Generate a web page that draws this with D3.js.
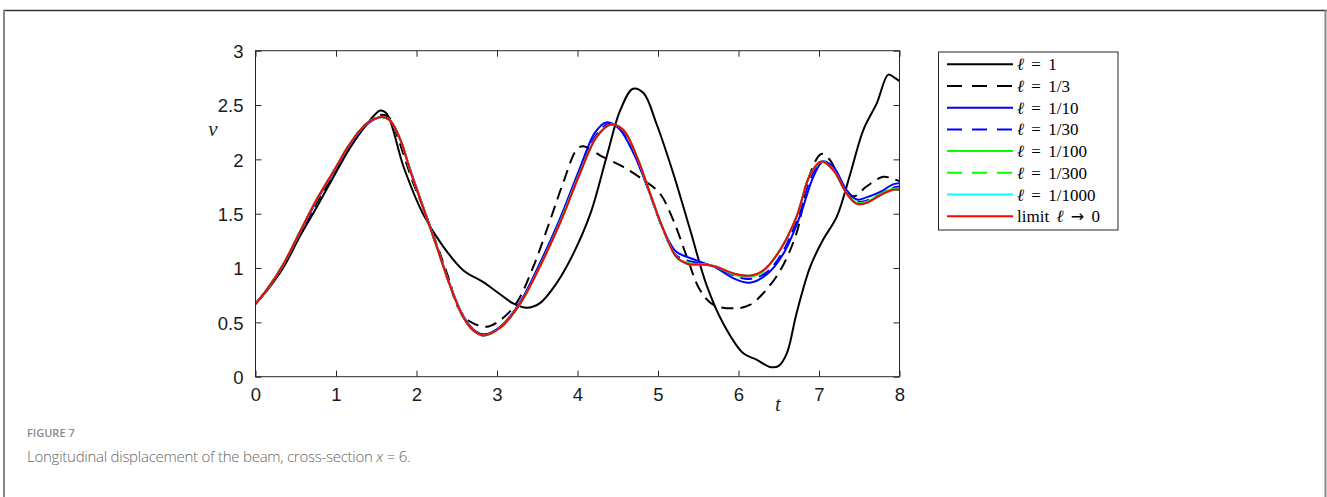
<!DOCTYPE html>
<html>
<head>
<meta charset="utf-8">
<script src="https://cdn.jsdelivr.net/npm/d3@7"></script>
<style>
	body { margin: 0; background: #fff; }
	svg { display: block; }
</style>
</head>
<body>
<div id="graph"></div>
<script>
// series, as [t, v] pairs
var ell1 = [[0,0.67],[0.15,0.80],[0.35,1.01],[0.55,1.29],[0.76,1.56],[0.97,1.84],[1.17,2.10],[1.38,2.32],[1.55,2.45],[1.63,2.42],
	[1.84,1.93],[2.08,1.50],[2.33,1.20],[2.58,0.98],[2.83,0.87],[3.0,0.78],[3.20,0.675],[3.37,0.635],[3.53,0.675],[3.74,0.86],
	[3.95,1.135],[4.16,1.50],[4.36,2.02],[4.53,2.45],[4.69,2.65],[4.82,2.61],[4.98,2.33],[5.19,1.87],[5.40,1.35],[5.60,0.85],
	[5.81,0.49],[6.06,0.215],[6.23,0.155],[6.39,0.09],[6.50,0.10],[6.60,0.215],[6.72,0.58],[6.89,1.01],[7.05,1.26],[7.22,1.47],
	[7.39,1.87],[7.55,2.27],[7.72,2.52],[7.86,2.78],[7.94,2.75],[8.0,2.72]];
var ell3 = [[0,0.67],[0.15,0.81],[0.35,1.03],[0.55,1.31],[0.76,1.60],[0.97,1.86],[1.17,2.12],[1.38,2.32],[1.57,2.41],[1.68,2.37],
	[1.75,2.24],[1.96,1.78],[2.08,1.56],[2.25,1.22],[2.42,0.86],[2.50,0.66],[2.66,0.51],[2.87,0.46],[3.04,0.52],[3.24,0.675],
	[3.45,1.01],[3.66,1.44],[3.82,1.78],[3.99,2.09],[4.07,2.12],[4.32,2.02],[4.57,1.93],[4.82,1.81],[5.02,1.69],[5.19,1.44],
	[5.36,1.10],[5.52,0.80],[5.69,0.66],[5.98,0.63],[6.14,0.66],[6.31,0.77],[6.52,0.98],[6.72,1.32],[6.89,1.87],[7.03,2.05],
	[7.14,1.99],[7.30,1.75],[7.43,1.66],[7.59,1.75],[7.80,1.84],[7.92,1.82],[8.0,1.80]];
var ell10 = [[0,0.67],[0.15,0.81],[0.35,1.04],[0.55,1.32],[0.76,1.62],[0.97,1.88],[1.17,2.13],[1.38,2.32],[1.57,2.39],[1.67,2.36],
	[1.80,2.18],[1.92,1.91],[2.08,1.57],[2.25,1.21],[2.42,0.84],[2.58,0.56],[2.70,0.44],[2.83,0.39],[3.04,0.46],[3.29,0.69],
	[3.53,1.04],[3.78,1.45],[4.03,1.92],[4.22,2.25],[4.36,2.34],[4.52,2.28],[4.70,2.05],[4.88,1.72],[5.05,1.38],[5.20,1.17],
	[5.27,1.13],[5.48,1.07],[5.73,1.00],[5.94,0.905],[6.14,0.865],[6.35,0.94],[6.56,1.135],[6.76,1.47],[6.93,1.84],[7.05,1.98],
	[7.18,1.93],[7.34,1.72],[7.47,1.63],[7.59,1.65],[7.76,1.70],[7.92,1.77],[8.0,1.78]];
var ell30 = [[0,0.67],[0.15,0.81],[0.35,1.04],[0.55,1.33],[0.76,1.63],[0.97,1.89],[1.17,2.14],[1.38,2.33],[1.57,2.39],[1.67,2.36],
	[1.80,2.18],[1.92,1.90],[2.08,1.56],[2.25,1.20],[2.42,0.83],[2.58,0.55],[2.70,0.43],[2.83,0.38],[3.04,0.455],[3.29,0.68],
	[3.53,1.02],[3.78,1.43],[4.03,1.89],[4.23,2.22],[4.40,2.33],[4.55,2.27],[4.72,2.03],[4.89,1.70],[5.06,1.36],[5.22,1.12],
	[5.36,1.07],[5.55,1.04],[5.73,1.01],[5.94,0.93],[6.14,0.90],[6.35,0.96],[6.55,1.15],[6.74,1.47],[6.91,1.85],[7.04,1.98],
	[7.18,1.91],[7.34,1.70],[7.47,1.61],[7.59,1.62],[7.76,1.68],[7.92,1.74],[8.0,1.75]];
var ell100 = [[0,0.67],[0.15,0.81],[0.35,1.04],[0.55,1.33],[0.76,1.63],[0.97,1.89],[1.17,2.14],[1.38,2.33],[1.57,2.39],[1.67,2.36],
	[1.80,2.18],[1.92,1.90],[2.08,1.56],[2.25,1.20],[2.42,0.83],[2.58,0.55],[2.70,0.43],[2.83,0.38],[3.04,0.45],[3.29,0.675],
	[3.53,1.01],[3.78,1.42],[4.03,1.88],[4.24,2.21],[4.42,2.32],[4.57,2.27],[4.74,2.02],[4.90,1.69],[5.07,1.35],[5.23,1.10],
	[5.36,1.05],[5.60,1.03],[5.73,1.01],[5.94,0.94],[6.14,0.92],[6.31,0.97],[6.52,1.17],[6.72,1.47],[6.89,1.86],[7.03,1.98],
	[7.18,1.90],[7.34,1.69],[7.47,1.60],[7.59,1.61],[7.76,1.68],[7.92,1.73],[8.0,1.73]];
var ell300 = [[0,0.67],[0.15,0.81],[0.35,1.04],[0.55,1.33],[0.76,1.63],[0.97,1.89],[1.17,2.14],[1.38,2.33],[1.57,2.39],[1.67,2.36],
	[1.80,2.18],[1.92,1.90],[2.08,1.56],[2.25,1.20],[2.42,0.83],[2.58,0.55],[2.70,0.43],[2.83,0.38],[3.04,0.45],[3.29,0.675],
	[3.53,1.01],[3.78,1.41],[4.03,1.87],[4.24,2.21],[4.42,2.32],[4.57,2.27],[4.74,2.02],[4.90,1.69],[5.07,1.35],[5.23,1.10],
	[5.36,1.04],[5.60,1.03],[5.73,1.01],[5.94,0.95],[6.14,0.93],[6.31,0.98],[6.52,1.17],[6.72,1.47],[6.89,1.86],[7.03,1.98],
	[7.18,1.90],[7.34,1.69],[7.47,1.59],[7.59,1.60],[7.76,1.67],[7.92,1.72],[8.0,1.72]];
var ell1000 = [[0,0.67],[0.15,0.81],[0.35,1.04],[0.55,1.33],[0.76,1.63],[0.97,1.89],[1.17,2.14],[1.38,2.33],[1.57,2.39],[1.67,2.36],
	[1.80,2.18],[1.92,1.90],[2.08,1.56],[2.25,1.20],[2.42,0.83],[2.58,0.55],[2.70,0.43],[2.83,0.38],[3.04,0.45],[3.29,0.675],
	[3.53,1.01],[3.78,1.41],[4.03,1.87],[4.24,2.21],[4.42,2.32],[4.57,2.27],[4.74,2.02],[4.90,1.69],[5.07,1.35],[5.23,1.10],
	[5.36,1.04],[5.60,1.03],[5.73,1.01],[5.94,0.95],[6.14,0.93],[6.31,0.98],[6.52,1.17],[6.72,1.47],[6.89,1.86],[7.03,1.98],
	[7.18,1.90],[7.34,1.69],[7.47,1.59],[7.59,1.60],[7.76,1.67],[7.92,1.72],[8.0,1.72]];
var limit0 = [[0,0.67],[0.15,0.81],[0.35,1.04],[0.55,1.33],[0.76,1.63],[0.97,1.89],[1.17,2.14],[1.38,2.33],[1.57,2.39],[1.67,2.36],
	[1.80,2.18],[1.92,1.90],[2.08,1.56],[2.25,1.20],[2.42,0.83],[2.58,0.55],[2.70,0.43],[2.83,0.38],[3.04,0.45],[3.29,0.675],
	[3.53,1.01],[3.78,1.41],[4.03,1.87],[4.24,2.21],[4.42,2.32],[4.57,2.27],[4.74,2.02],[4.90,1.69],[5.07,1.35],[5.23,1.10],
	[5.36,1.04],[5.60,1.03],[5.73,1.01],[5.94,0.95],[6.14,0.93],[6.31,0.98],[6.52,1.17],[6.72,1.47],[6.89,1.86],[7.03,1.98],
	[7.18,1.90],[7.34,1.69],[7.47,1.59],[7.59,1.60],[7.76,1.67],[7.92,1.72],[8.0,1.72]];

var seriesNames = ["\u2113 = 1", "\u2113 = 1/3", "\u2113 = 1/10", "\u2113 = 1/30", "\u2113 = 1/100", "\u2113 = 1/300", "\u2113 = 1/1000", "limit \u2113 \u2192 0"];
var seriesData = [ell1, ell3, ell10, ell30, ell100, ell300, ell1000, limit0];
var seriesColors = ["#000000", "#000000", "#0000ff", "#0000ff", "#00ff00", "#00ff00", "#00ffff", "#ff0000"];
var seriesDashed = [false, true, false, true, false, true, false, false];

var xTicks = [0, 1, 2, 3, 4, 5, 6, 7, 8];
var yTicks = [0, 0.5, 1, 1.5, 2, 2.5, 3];

(function drawFigure() {
	var W = 1327, H = 497;
	var svg = d3.select("#graph").append("svg").attr("width", W).attr("height", H);

	// outer frame of the figure panel
	svg.append("line").attr("x1", 3).attr("x2", W).attr("y1", 10.5).attr("y2", 10.5)
		.attr("stroke", "#333").attr("stroke-width", 1.5);
	svg.append("line").attr("x1", 4).attr("x2", 4).attr("y1", 10).attr("y2", H)
		.attr("stroke", "#888").attr("stroke-width", 2);
	svg.append("line").attr("x1", 1325.5).attr("x2", 1325.5).attr("y1", 10).attr("y2", H)
		.attr("stroke", "#888").attr("stroke-width", 2);

	var pLeft = 255.5, pRight = 899.5, pTop = 50.7, pBottom = 376.7;
	var x = d3.scaleLinear().domain([0, 8]).range([pLeft, pRight]);
	var y = d3.scaleLinear().domain([0, 3]).range([pBottom, pTop]);

	var axisColor = "#262626";
	var tickLen = 6;
	var g = svg.append("g");

	// ticks on all four sides, pointing inward
	var gx = g.append("g").attr("transform", "translate(0," + pBottom + ")")
		.call(d3.axisBottom(x).tickValues(xTicks).tickSizeInner(-tickLen).tickSizeOuter(0).tickPadding(12).tickFormat(d3.format("d")));
	var gxt = g.append("g").attr("transform", "translate(0," + pTop + ")")
		.call(d3.axisTop(x).tickValues(xTicks).tickSizeInner(-tickLen).tickSizeOuter(0).tickFormat(""));
	var gy = g.append("g").attr("transform", "translate(" + pLeft + ",0)")
		.call(d3.axisLeft(y).tickValues(yTicks).tickSizeInner(-tickLen).tickSizeOuter(0).tickPadding(12).tickFormat(d3.format("")));
	var gyr = g.append("g").attr("transform", "translate(" + pRight + ",0)")
		.call(d3.axisRight(y).tickValues(yTicks).tickSizeInner(-tickLen).tickSizeOuter(0).tickFormat(""));

	[gx, gxt, gy, gyr].forEach(function (a) {
		a.selectAll(".domain").remove();
		a.selectAll(".tick line").attr("stroke", axisColor).attr("stroke-width", 1);
		a.selectAll("text").attr("fill", "#1a1a1a").style("font-family", "'Liberation Sans', Arial, sans-serif").style("font-size", "18.5px");
	});
	gx.selectAll("text").attr("dy", "0.71em").attr("y", 11.5);
	gy.selectAll("text").attr("dy", "0.36em");

	// series
	var line = d3.line()
		.x(function(d) { return x(d[0]); })
		.y(function(d) { return y(d[1]); })
		.curve(d3.curveCatmullRom.alpha(0.5));

	svg.append("clipPath").attr("id", "plotclip").append("rect")
		.attr("x", pLeft).attr("y", pTop - 2).attr("width", pRight - pLeft).attr("height", pBottom - pTop + 4);

	var lines = svg.append("g").attr("clip-path", "url(#plotclip)");
	seriesData.forEach(function (s, i) {
		lines.append("path").datum(s)
			.attr("d", line)
			.attr("fill", "none")
			.attr("stroke", seriesColors[i])
			.attr("stroke-width", 2)
			.attr("stroke-linejoin", "round")
			.attr("stroke-dasharray", seriesDashed[i] ? "12,7" : null);
	});

	// axes box
	svg.append("rect").attr("x", pLeft).attr("y", pTop).attr("width", pRight - pLeft).attr("height", pBottom - pTop)
		.attr("fill", "none").attr("stroke", axisColor).attr("stroke-width", 1);

	// axis labels
	var serif = "'Liberation Serif', 'DejaVu Serif', serif";
	svg.append("text").attr("x", 213).attr("y", 136).text("v")
		.attr("fill", axisColor).style("font-family", serif).style("font-style", "italic").style("font-size", "21px")
		.attr("text-anchor", "middle");
	svg.append("text").attr("x", 778).attr("y", 411).text("t")
		.attr("fill", axisColor).style("font-family", serif).style("font-style", "italic").style("font-size", "21px")
		.attr("text-anchor", "middle");

	// legend
	var lg = svg.append("g");
	lg.append("rect").attr("x", 938.5).attr("y", 52).attr("width", 179.5).attr("height", 178)
		.attr("fill", "#fff").attr("stroke", axisColor).attr("stroke-width", 1);
	seriesNames.forEach(function (name, i) {
		var yy = 64.3 + i * 21.7;
		lg.append("line").attr("x1", 947).attr("x2", 1013).attr("y1", yy).attr("y2", yy)
			.attr("stroke", seriesColors[i]).attr("stroke-width", 2)
			.attr("stroke-dasharray", seriesDashed[i] ? "15,10" : null);
		var txt = lg.append("text").attr("x", 1017).attr("y", yy + 6)
			.attr("fill", "#000").style("font-family", serif).style("font-size", "17px")
			.style("word-spacing", "3px");
		// split so the ell is italic and the arrow gets a wider glyph
		name.split(/(\u2113|\u2192)/).forEach(function (part) {
			if (part === "") return;
			var ts = txt.append("tspan").text(part);
			if (part === "\u2113") ts.style("font-style", "italic");
			if (part === "\u2192") ts.style("font-family", "'DejaVu Sans', sans-serif").style("font-size", "16px");
		});
	});

	// caption
	svg.append("text").attr("x", 27).attr("y", 437).text("FIGURE 7")
		.attr("fill", "#8a8a8a").style("font-family", "'Open Sans', 'Noto Sans', sans-serif").style("font-size", "11px").style("font-weight", "600");
	var cap = svg.append("text").attr("x", 27).attr("y", 462)
		.attr("fill", "#666").style("font-family", "'Open Sans', 'Noto Sans', sans-serif").style("font-size", "15px").style("font-weight", "300")
		.style("letter-spacing", "-0.25px");
	cap.append("tspan").text("Longitudinal displacement of the beam, cross-section ");
	cap.append("tspan").text("x").style("font-style", "italic");
	cap.append("tspan").text(" = 6.");
})();
</script>
</body>
</html>
